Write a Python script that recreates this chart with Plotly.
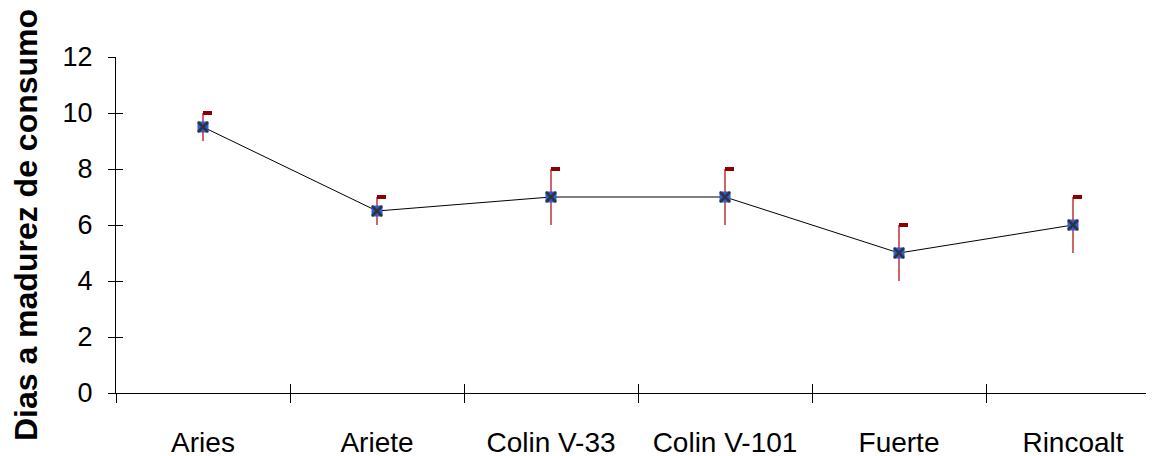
import plotly.graph_objects as go

categories = ["Aries", "Ariete", "Colin V-33", "Colin V-101", "Fuerte", "Rincoalt"]
dias = [9.5, 6.5, 7, 7, 5, 6]
dias_max = [10, 7, 8, 8, 6, 7]
dias_min = [9, 6, 6, 6, 4, 5]
y_ticks = [0, 2, 4, 6, 8, 10, 12]

FONT = "Liberation Sans, Arial, sans-serif"
idx = list(range(len(categories)))
err_plus = [h - v for h, v in zip(dias_max, dias)]
err_minus = [v - l for v, l in zip(dias, dias_min)]

fig = go.Figure()

# high markers (flag-like rectangles to the right of the error line)
fig.add_trace(go.Bar(
    x=idx, y=[0.17] * len(idx), base=[h - 0.085 for h in dias_max],
    width=0.052, offset=0.0, marker=dict(color="#8B0000", line=dict(width=0)),
    showlegend=False, hoverinfo="skip"))

fig.add_trace(go.Scatter(
    x=idx, y=dias, mode="lines+markers",
    line=dict(color="black", width=1),
    marker=dict(symbol="square", size=11, color="#2B5BE0", line=dict(width=0)),
    error_y=dict(type="data", array=err_plus, arrayminus=err_minus,
                 color="#B00000", thickness=1.2, width=0),
    showlegend=False))
fig.add_trace(go.Scatter(
    x=idx, y=dias, mode="markers",
    marker=dict(symbol="x-thin-open", size=10, color="#333333",
                line=dict(width=2.5, color="#333333")),
    showlegend=False, hoverinfo="skip"))

xr = [-0.5, 5.5]
yr = [0, 12]
fig.update_layout(
    width=1154, height=456,
    margin=dict(l=108, r=2, t=49, b=71, autoexpand=False),
    paper_bgcolor="white", plot_bgcolor="white",
    font=dict(family=FONT, size=28, color="black"),
    xaxis=dict(range=xr, tickmode="array", tickvals=idx, ticktext=categories,
               showline=True, linecolor="black", linewidth=1, automargin=False,
               ticks="", showgrid=False, zeroline=False,
               ticklabelstandoff=24, tickfont=dict(size=28)),
    xaxis2=dict(range=xr, overlaying="x", anchor="y", side="bottom", automargin=False,
                tickmode="array", tickvals=[i - 0.5 for i in range(7)],
                ticks="outside", ticklen=9, tickcolor="black", tickwidth=1,
                showticklabels=False, showgrid=False, zeroline=False, showline=False),
    xaxis3=dict(range=xr, overlaying="x", anchor="y", side="bottom", automargin=False,
                tickmode="array", tickvals=[i - 0.5 for i in range(7)],
                ticks="inside", ticklen=9, tickcolor="black", tickwidth=1,
                showticklabels=False, showgrid=False, zeroline=False, showline=False),
    yaxis=dict(range=yr, tickmode="array", tickvals=y_ticks, automargin=False,
               showline=True, linecolor="black", linewidth=1,
               ticks="outside", ticklen=7, tickcolor="black",
               showgrid=False, zeroline=False, tickfont=dict(size=27),
               ticklabelstandoff=10,
               title=dict(text="<b>Dias a madurez de consumo</b>",
                          font=dict(size=32), standoff=20)),
    yaxis2=dict(range=yr, overlaying="y", anchor="x", side="left", automargin=False,
                tickmode="array", tickvals=y_ticks,
                ticks="inside", ticklen=7, tickcolor="black",
                showticklabels=False, showgrid=False, zeroline=False, showline=False),
    bargap=0,
)
fig.add_trace(go.Scatter(x=[None], y=[None], xaxis="x2", yaxis="y2", showlegend=False))
fig.add_trace(go.Scatter(x=[None], y=[None], xaxis="x3", yaxis="y", showlegend=False))

fig.write_html("out.html")
